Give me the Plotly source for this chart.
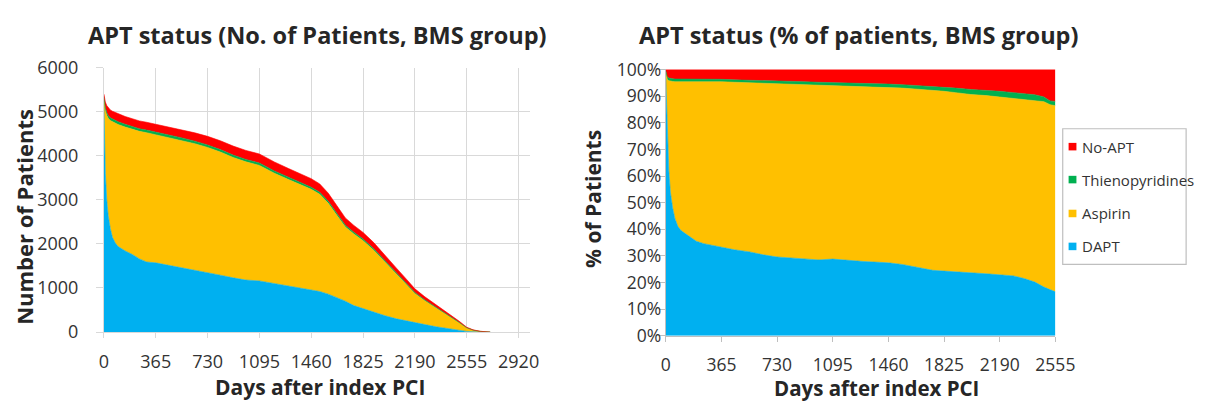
import plotly.graph_objects as go

W, H = 1212, 408

# ---------------- data: left chart (number of patients) ----------------
days_n = [0, 5, 10, 20, 30, 45, 60, 80, 100, 150, 200, 250, 300, 365, 450, 550, 640, 730,
          820, 910, 1000, 1095, 1200, 1300, 1400, 1460, 1520, 1580, 1640, 1700, 1760, 1825,
          1900, 1980, 2060, 2130, 2190, 2260, 2340, 2420, 2500, 2555, 2600, 2650, 2700, 2720]
dapt_n = [5120, 4300, 3600, 3000, 2650, 2350, 2150, 2020, 1940, 1840, 1760, 1660, 1590, 1570,
          1520, 1460, 1400, 1340, 1290, 1230, 1180, 1160, 1100, 1040, 990, 960, 920, 860, 780,
          700, 600, 530, 460, 370, 300, 250, 215, 170, 120, 75, 35, 15, 6, 2, 0, 0]
aspirin_n = [180, 850, 1435, 1920, 2203, 2448, 2618, 2718, 2768, 2810, 2842, 2893, 2933, 2908,
             2900, 2886, 2873, 2848, 2794, 2730, 2681, 2621, 2503, 2420, 2327, 2278, 2204,
             2060, 1872, 1684, 1626, 1543, 1395, 1219, 1008, 827, 661, 542, 430, 314, 182, 78,
             36, 13, 3, 0]
thieno_n = [40, 50, 55, 60, 62, 62, 62, 62, 62, 62, 60, 60, 60, 60, 58, 58, 57, 57, 56, 55, 54,
            54, 52, 50, 48, 47, 46, 45, 43, 41, 39, 37, 35, 31, 27, 23, 19, 16, 12, 9, 5, 3, 1,
            0, 0, 0]
noapt_n = [60, 100, 130, 160, 175, 180, 180, 180, 180, 178, 178, 177, 177, 177, 182, 186, 190,
           195, 200, 205, 205, 205, 205, 200, 195, 195, 190, 185, 175, 165, 155, 150, 140, 130,
           115, 100, 85, 72, 58, 42, 28, 14, 7, 3, 1, 0]

# ---------------- data: right chart (% of patients) ----------------
days_p = [0, 5, 10, 20, 30, 45, 60, 80, 100, 150, 200, 250, 300, 365, 450, 550, 640, 730, 820,
          910, 1000, 1095, 1200, 1300, 1400, 1460, 1550, 1650, 1750, 1825, 1900, 2000, 2100,
          2190, 2280, 2350, 2420, 2480, 2520, 2555]
dapt_p = [96.5, 86, 74, 62, 54, 48, 44, 41, 39.5, 37.5, 35.5, 34.6, 34.0, 33.5, 32.3, 31.5,
          30.4, 29.6, 29.3, 29.0, 28.5, 28.8, 28.2, 27.9, 27.6, 27.4, 26.8, 25.8, 24.6, 24.3,
          24.1, 23.8, 23.3, 22.9, 22.5, 21.5, 20.2, 18.3, 17.3, 16.5]
aspirin_p = [2.5, 11.0, 22.2, 33.8, 41.6, 47.5, 51.4, 54.4, 56.0, 58.0, 59.9, 60.8, 61.4, 61.9,
             62.9, 63.5, 64.5, 65.1, 65.2, 65.3, 65.5, 65.1, 65.6, 65.7, 65.8, 65.9, 66.2, 66.8,
             67.6, 67.5, 67.2, 66.8, 66.9, 66.8, 66.7, 67.3, 68.3, 69.6, 69.5, 69.9]
thieno_p = [0.5, 1.0, 1.0, 1.0, 1.0, 1.0, 1.0, 1.0, 0.9, 0.9, 0.9, 0.9, 0.9, 0.9, 0.9, 1.0, 1.0,
            1.1, 1.1, 1.1, 1.2, 1.2, 1.2, 1.2, 1.2, 1.2, 1.3, 1.4, 1.5, 1.6, 1.7, 1.9, 2.0, 2.1,
            2.1, 2.0, 2.0, 1.8, 1.4, 1.6]
noapt_p = [0.5, 2.0, 2.8, 3.2, 3.4, 3.5, 3.6, 3.6, 3.6, 3.6, 3.7, 3.7, 3.7, 3.7, 3.9, 4.0, 4.1,
           4.2, 4.4, 4.6, 4.8, 4.9, 5.0, 5.2, 5.4, 5.5, 5.7, 6.0, 6.3, 6.6, 7.0, 7.5, 7.8, 8.2,
           8.7, 9.2, 9.5, 10.3, 11.8, 12.0]

series_names = ["DAPT", "Aspirin", "Thienopyridines", "No-APT"]
series_colors = ["#00B0F0", "#FFC000", "#00B050", "#FF0000"]

x_ticks_left = [0, 365, 730, 1095, 1460, 1825, 2190, 2555, 2920]
x_ticks_right = [0, 365, 730, 1095, 1460, 1825, 2190, 2555]
y_ticks_left = [0, 1000, 2000, 3000, 4000, 5000, 6000]
y_ticks_right = [0, 10, 20, 30, 40, 50, 60, 70, 80, 90, 100]

title_left = "APT status (No. of Patients, BMS group)"
title_right = "APT status (% of patients, BMS group)"
ytitle_left = "Number of Patients"
ytitle_right = "% of Patients"
xtitle = "Days after index PCI"

FONT = "'Open Sans', Lato, sans-serif"
TXT = "#262626"
TICK_TXT = "#333333"
GRID = "#d9d9d9"


def px(x):
    return x / W


def py(y):
    return 1 - y / H


fig = go.Figure()

left_series = [dapt_n, aspirin_n, thieno_n, noapt_n]
right_series = [dapt_p, aspirin_p, thieno_p, noapt_p]

for name, col, vals in zip(series_names, series_colors, left_series):
    fig.add_trace(go.Scatter(x=days_n, y=vals, name=name, mode="lines", stackgroup="n",
                             line=dict(width=0.6, color=col), fillcolor=col,
                             xaxis="x", yaxis="y", showlegend=False, hoverinfo="x+y+name"))

for name, col, vals in zip(series_names, series_colors, right_series):
    fig.add_trace(go.Scatter(x=days_p, y=vals, name=name, mode="lines", stackgroup="p",
                             line=dict(width=0.6, color=col), fillcolor=col,
                             xaxis="x2", yaxis="y2", showlegend=False, hoverinfo="x+y+name"))

tickfont = dict(family=FONT, size=18, color=TICK_TXT)
tickfont_r = dict(family=FONT, size=17.5, color=TICK_TXT)

fig.update_layout(
    width=W, height=H,
    margin=dict(l=0, r=0, t=0, b=0),
    paper_bgcolor="white", plot_bgcolor="white",
    showlegend=False,
    xaxis=dict(domain=[px(101), px(536)], range=[0, 3000], tickvals=x_ticks_left,
               ticktext=[str(v) for v in x_ticks_left],
               showgrid=True, gridcolor=GRID, gridwidth=1, zeroline=False,
               ticks="outside", ticklen=5, tickcolor=GRID,
               showline=True, linecolor=GRID, linewidth=1,
               tickfont=tickfont, ticklabelstandoff=8, anchor="y"),
    yaxis=dict(domain=[py(339), py(58)], range=[0, 6000], tickvals=y_ticks_left,
               ticktext=[str(v) for v in y_ticks_left],
               showgrid=True, gridcolor=GRID, gridwidth=1, zeroline=False,
               ticks="outside", ticklen=7, tickcolor=GRID,
               showline=True, linecolor=GRID, linewidth=1,
               tickfont=tickfont, ticklabelstandoff=14, anchor="x"),
    xaxis2=dict(domain=[px(674.7), px(1072.5)], range=[0, 2555], tickvals=x_ticks_right,
                ticktext=[str(v) for v in x_ticks_right],
                showgrid=False, zeroline=False, ticks="outside", ticklen=5,
                tickcolor="#bfbfbf", showline=True, linecolor="#bfbfbf", linewidth=1,
                tickfont=tickfont_r, ticklabelstandoff=8, anchor="y2"),
    yaxis2=dict(domain=[py(343), py(60)], range=[0, 100], tickvals=y_ticks_right,
                ticktext=[f"{v}%" for v in y_ticks_right],
                showgrid=False, zeroline=False, ticks="outside", ticklen=6,
                tickcolor="#bfbfbf", showline=True, linecolor="#bfbfbf", linewidth=1,
                tickfont=tickfont_r, ticklabelstandoff=-6, anchor="x2"),
)

ann = []


def add_text(text, x, y, size, bold=True, angle=0, xanchor="center", color=TXT):
    ann.append(dict(text=f"<b>{text}</b>" if bold else text, x=px(x), y=py(y),
                    xref="paper", yref="paper", showarrow=False, xanchor=xanchor,
                    yanchor="middle", textangle=angle,
                    font=dict(family=FONT, size=size, color=color)))


add_text(title_left, 319, 23, 23.5)
add_text(title_right, 871, 23, 23.5)
add_text(ytitle_left, 20, 217, 22, angle=-90)
add_text(ytitle_right, 601, 198, 21, angle=-90)
add_text(xtitle, 322, 397, 21)
add_text(xtitle, 890, 398, 20.5)

# legend (No-APT on top, DAPT at bottom)
shapes = [dict(type="rect", xref="paper", yref="paper", x0=px(1080), x1=px(1206),
               y0=py(267), y1=py(123), line=dict(color="#bfbfbf", width=1.2),
               fillcolor="white")]
leg_y = [248, 213, 177, 142]
for name, col, yy in zip(series_names, series_colors, leg_y):
    shapes.append(dict(type="rect", xref="paper", yref="paper", x0=px(1086), x1=px(1094),
                       y0=py(yy + 4), y1=py(yy - 4), line=dict(width=0), fillcolor=col))
    add_text(name, 1098, yy, 15, bold=False, xanchor="left", color=TICK_TXT)

fig.update_layout(annotations=ann, shapes=shapes)

fig.write_html("out.html")
